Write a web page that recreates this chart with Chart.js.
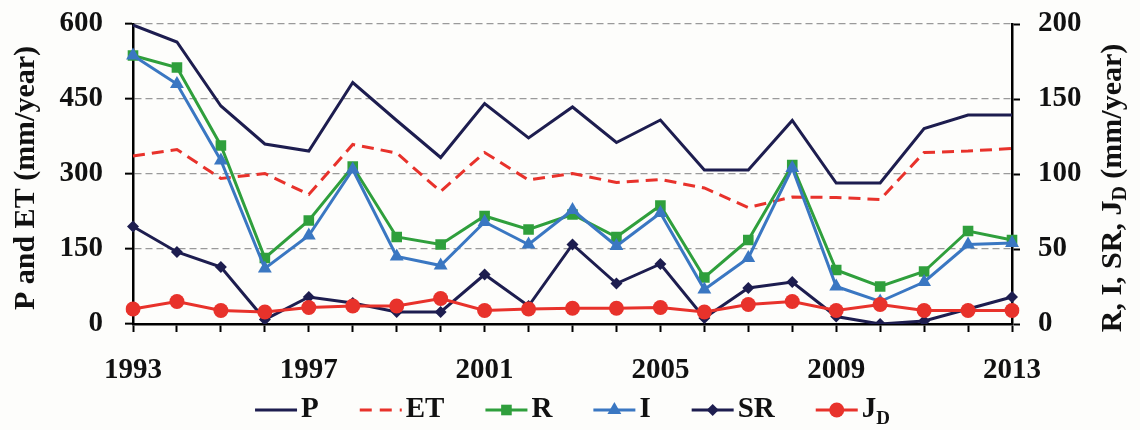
<!DOCTYPE html>
<html>
<head>
<meta charset="utf-8">
<script src="https://cdn.jsdelivr.net/npm/chart.js@4.4.0/dist/chart.umd.min.js"></script>
<style>
  html, body { margin: 0; padding: 0; background: #fdfdfb; }
  #wrap { width: 1140px; height: 430px; }
</style>
</head>
<body>
<div id="wrap"><canvas id="chart" width="1140" height="430"></canvas></div>
<script>
"use strict";

var years = [1993, 1994, 1995, 1996, 1997, 1998, 1999, 2000, 2001, 2002, 2003,
             2004, 2005, 2006, 2007, 2008, 2009, 2010, 2011, 2012, 2013];
var pVals  = [598, 564, 436, 360, 346, 483, 407, 333, 441, 372, 434, 363, 408, 308, 308, 407, 282, 282, 391, 418, 418];
var etVals = [336, 349, 291, 301, 259, 359, 342, 265, 343, 288, 301, 283, 289, 272, 233, 254, 253, 249, 343, 346, 351];
var rVals  = [179, 171, 119, 44, 69, 105, 58, 53, 72, 63, 73, 58, 79, 31, 56, 106, 36, 25, 35, 62, 56];
var iVals  = [179, 160, 109, 37, 59, 103, 45, 39, 68, 53, 76, 52, 74, 23, 44, 104, 25, 15, 28, 53, 54];
var srVals = [65, 48, 38, 3, 18, 14, 8, 8, 33, 12, 53, 27, 40, 4, 24, 28, 5, 0, 2, 10, 18];
var jdVals = [10, 15, 9, 8, 11, 12, 12, 17, 9, 10, 10.5, 10.5, 11, 8, 13, 15, 9, 13, 9, 9, 9];
var leftTicks  = [0, 150, 300, 450, 600];
var rightTicks = [0, 50, 100, 150, 200];
var yearLabels = [1993, 1997, 2001, 2005, 2009, 2013];

var FONT = "'Liberation Serif', 'Times New Roman', serif";
var navy = '#1d1d4f';
var red = '#e8322b';
var green = '#2f9f3c';
var blue = '#3a77c2';

// background + axis titles + legend drawn by hand (needs subscript D)
var extras = {
    id: 'extras',
    beforeDraw: function(chart){
        var ctx = chart.ctx;
        ctx.save();
        ctx.fillStyle = '#fdfdfb';
        ctx.fillRect(0, 0, chart.width, chart.height);
        ctx.restore();
    },
    afterDraw: function(chart){
        var ctx = chart.ctx;
        ctx.save();
        ctx.fillStyle = '#111';
        ctx.textBaseline = 'middle';

        // left title
        ctx.save();
        ctx.translate(26, 178);
        ctx.rotate(-Math.PI / 2);
        ctx.font = 'bold 30px ' + FONT;
        ctx.textAlign = 'center';
        ctx.fillText('P and ET (mm/year)', 0, 0);
        ctx.restore();

        // right title with subscript
        ctx.save();
        ctx.translate(1113, 188);
        ctx.rotate(-Math.PI / 2);
        ctx.textAlign = 'left';
        var big = 'bold 30px ' + FONT, small = 'bold 20px ' + FONT;
        var parts = [['R, I, SR, J', big, 0], ['D', small, 8], [' (mm/year)', big, 0]];
        var total = 0;
        parts.forEach(function(p){ ctx.font = p[1]; total += ctx.measureText(p[0]).width; });
        var x = -total / 2;
        parts.forEach(function(p){
            ctx.font = p[1];
            ctx.fillText(p[0], x, p[2]);
            x += ctx.measureText(p[0]).width;
        });
        ctx.restore();

        // legend
        big = 'bold 29px ' + FONT; small = 'bold 19px ' + FONT;
        var items = chart.data.datasets.slice().sort(function(a, b){ return a.legendIdx - b.legendIdx; });
        var lineLen = 42, gap = 4, spacing = 41, ly = 410;
        var widths = items.map(function(ds){
            ctx.font = big;
            var w = ctx.measureText(ds.label).width;
            if (ds.label === 'J') { ctx.font = small; w += ctx.measureText('D').width; }
            return lineLen + gap + w;
        });
        var tot = widths.reduce(function(a, b){ return a + b; }, 0) + spacing * (items.length - 1);
        var area = chart.chartArea;
        var lx = (area.left + area.right) / 2 - tot / 2;
        items.forEach(function(ds, k){
            ctx.save();
            ctx.strokeStyle = ds.borderColor;
            ctx.lineWidth = ds.borderWidth;
            ctx.setLineDash(ds.borderDash ? [12, 8] : []);
            ctx.beginPath();
            ctx.moveTo(lx, ly);
            ctx.lineTo(lx + lineLen, ly);
            ctx.stroke();
            ctx.restore();
            if (ds.pointRadius > 0) {
                drawMarker(ctx, ds.pointStyle, lx + lineLen / 2, ly, ds.pointRadius, ds.backgroundColor);
            }
            ctx.fillStyle = '#111';
            ctx.textAlign = 'left';
            ctx.font = big;
            ctx.fillText(ds.label, lx + lineLen + gap, ly);
            if (ds.label === 'J') {
                var jw = ctx.measureText('J').width;
                ctx.font = small;
                ctx.fillText('D', lx + lineLen + gap + jw, ly + 9);
            }
            lx += widths[k] + spacing;
        });
        ctx.restore();
    }
};

function drawMarker(ctx, style, x, y, r, color){
    ctx.save();
    ctx.fillStyle = color;
    ctx.beginPath();
    if (style === 'rect') {
        var s = Math.SQRT1_2 * r;
        ctx.rect(x - s, y - s, 2 * s, 2 * s);
    } else if (style === 'triangle') {
        ctx.moveTo(x, y - r);
        ctx.lineTo(x + r * 0.866, y + r * 0.5);
        ctx.lineTo(x - r * 0.866, y + r * 0.5);
        ctx.closePath();
    } else if (style === 'rectRot') {
        ctx.moveTo(x, y - r);
        ctx.lineTo(x + r, y);
        ctx.lineTo(x, y + r);
        ctx.lineTo(x - r, y);
        ctx.closePath();
    } else {
        ctx.arc(x, y, r, 0, Math.PI * 2);
    }
    ctx.fill();
    ctx.restore();
}

function series(label, data, axis, color, style, radius, dash, order, idx){
    return {
        label: label,
        data: data,
        yAxisID: axis,
        borderColor: color,
        backgroundColor: color,
        borderWidth: 3,
        borderDash: dash,
        pointStyle: style,
        pointRadius: radius,
        pointBorderWidth: 0,
        pointHoverRadius: radius,
        tension: 0,
        fill: false,
        order: order,
        legendIdx: idx
    };
}

// fixed axis box sizes, so the plot area matches the figure
function fixY(width){
    return function(scale){
        scale.width = width;
        scale.paddingTop = 0;
        scale.paddingBottom = 0;
    };
}

var tickFont = { family: FONT, size: 29, weight: 'bold' };

new Chart(document.getElementById('chart'), {
    type: 'line',
    data: {
        labels: years,
        datasets: [
            series('P', pVals, 'y', navy, 'circle', 0, undefined, 6, 0),
            series('ET', etVals, 'y', red, 'circle', 0, [12, 7], 5, 1),
            series('R', rVals, 'y1', green, 'rect', 7.5, undefined, 4, 2),
            series('I', iVals, 'y1', blue, 'triangle', 8, undefined, 3, 3),
            series('SR', srVals, 'y1', navy, 'rectRot', 6, undefined, 2, 4),
            series('J', jdVals, 'y1', red, 'circle', 7.5, undefined, 1, 5)
        ]
    },
    options: {
        responsive: false,
        animation: false,
        devicePixelRatio: 1,
        layout: { padding: { top: 24, left: 0, right: 0, bottom: 0 } },
        plugins: {
            legend: { display: false },
            tooltip: { enabled: false }
        },
        scales: {
            x: {
                type: 'category',
                offset: false,
                afterFit: function(scale){ scale.height = 106; },
                border: { display: true, color: '#000', width: 2.5 },
                grid: {
                    display: true,
                    drawOnChartArea: false,
                    drawTicks: true,
                    tickLength: 8,
                    tickColor: '#000',
                    tickWidth: 2
                },
                ticks: {
                    autoSkip: false,
                    maxRotation: 0,
                    padding: 21,
                    color: '#111',
                    font: tickFont,
                    callback: function(val, index){
                        var yr = years[index];
                        return yearLabels.indexOf(yr) >= 0 ? String(yr) : '';
                    }
                }
            },
            y: {
                position: 'left',
                min: 0,
                max: 600,
                afterFit: fixY(133),
                afterBuildTicks: function(scale){
                    scale.ticks = leftTicks.map(function(v){ return { value: v }; });
                },
                border: { display: true, color: '#000', width: 2.5, dash: [7, 4] },
                grid: {
                    color: function(c){ return c.tick && c.tick.value === 0 ? 'rgba(0,0,0,0)' : '#9a9a9a'; },
                    lineWidth: 1.3,
                    drawTicks: true,
                    tickLength: 8,
                    tickColor: '#000',
                    tickWidth: 2,
                    tickBorderDash: []
                },
                ticks: {
                    padding: 22,
                    color: '#111',
                    font: tickFont
                }
            },
            y1: {
                position: 'right',
                min: 0,
                max: 200,
                afterFit: fixY(128),
                afterBuildTicks: function(scale){
                    scale.ticks = rightTicks.map(function(v){ return { value: v }; });
                },
                border: { display: true, color: '#000', width: 2.5 },
                grid: {
                    drawOnChartArea: false,
                    drawTicks: true,
                    tickLength: 8,
                    tickColor: '#000',
                    tickWidth: 2
                },
                ticks: {
                    padding: 18,
                    color: '#111',
                    font: tickFont
                }
            }
        }
    },
    plugins: [extras]
});
</script>
</body>
</html>
